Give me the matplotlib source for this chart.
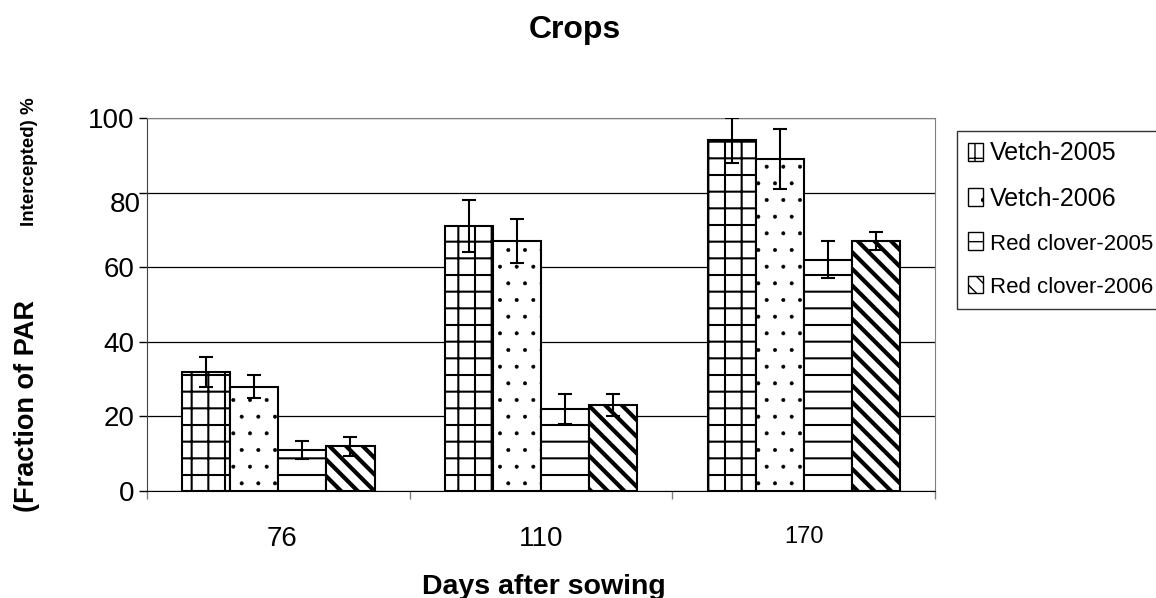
import matplotlib
matplotlib.use("Agg")
import matplotlib.pyplot as plt
import numpy as np
from matplotlib.transforms import ScaledTranslation

plt.rcParams['font.family'] = ['Liberation Sans', 'DejaVu Sans']

categories = ["76", "110", "170"]
series = ["Vetch-2005", "Vetch-2006", "Red clover-2005", "Red clover-2006"]
vetch_2005 = [32, 71, 94]
vetch_2006 = [28, 67, 89]
clover_2005 = [11, 22, 62]
clover_2006 = [12, 23, 67]
err_vetch_2005 = [4, 7, 6]
err_vetch_2006 = [3, 6, 8]
err_clover_2005 = [2.5, 4, 5]
err_clover_2006 = [2.5, 3, 2.5]
y_ticks = [0, 20, 40, 60, 80, 100]

values = [vetch_2005, vetch_2006, clover_2005, clover_2006]
errors = [err_vetch_2005, err_vetch_2006, err_clover_2005, err_clover_2006]
hatches = ['+', '.', '-', '\\\\']
hatch_lw = [1.5, 0.4, 1.5, 3.0]

fig = plt.figure(figsize=(11.56, 5.98), dpi=100)
ax = fig.add_axes([0.1272, 0.179, 0.6817, 0.6237])

x = np.arange(len(categories))
w = 0.183
handles = []
for i, (vals, errs, h, name, hl) in enumerate(zip(values, errors, hatches, series, hatch_lw)):
    pos = x + (i - 1.5) * w
    with plt.rc_context({'hatch.linewidth': hl}):
        b = ax.bar(pos, vals, w, color='white', edgecolor='black', linewidth=1.5,
                   hatch=h, label=name, zorder=3)
    for p in b.patches:
        if hasattr(p, 'set_hatch_linewidth'):
            p.set_hatch_linewidth(hl)
    ax.errorbar(pos, vals, yerr=errs, fmt='none', ecolor='black',
                elinewidth=1.5, capsize=5, capthick=1.5, zorder=4)
    handles.append(b)

ax.set_xlim(-0.5, 2.5)
ax.set_ylim(0, 100)
ax.set_yticks(y_ticks)
ax.set_yticklabels([str(t) for t in y_ticks], fontsize=20)
ax.yaxis.grid(True, color='black', linewidth=0.9, zorder=0)
ax.set_axisbelow(True)
ax.tick_params(axis='y', direction='out', length=6, width=1, pad=3)

ax.set_xticks(x)
ax.set_xticklabels(categories, fontsize=20)
ax.tick_params(axis='x', which='major', length=0, pad=25)
ax.set_xticks([-0.5, 0.5, 1.5, 2.5], minor=True)
ax.tick_params(axis='x', which='minor', direction='out', length=6, width=1, color='#808080')
for lbl in ax.get_xticklabels():
    if lbl.get_text() == "170":
        lbl.set_fontsize(17)
    if lbl.get_text() == "76":
        lbl.set_transform(lbl.get_transform() + ScaledTranslation(0.04, 0, fig.dpi_scale_trans))
for lbl in ax.get_yticklabels():
    if lbl.get_text() == "80":
        lbl.set_transform(lbl.get_transform() + ScaledTranslation(0.06, -0.09, fig.dpi_scale_trans))

for s in ['top', 'right']:
    ax.spines[s].set_color('#808080')
ax.spines['left'].set_color('#404040')
ax.spines['bottom'].set_color('black')

fig.text(575 / 1156, 1 - 30 / 598, "Crops", ha='center', va='center', fontsize=23, fontweight='bold')
fig.text(544 / 1156, 1 - 594 / 598, "Days after sowing", ha='center', va='baseline',
         fontsize=20.5, fontweight='bold')
fig.text(27 / 1156, 1 - 406 / 598, "(Fraction of PAR", rotation=90, ha='center', va='center',
         fontsize=19.5, fontweight='bold')
fig.text(29.5 / 1156, 1 - 162 / 598, "Intercepted) %", rotation=90, ha='center', va='center',
         fontsize=13.5, fontweight='bold')

leg = fig.legend(handles=handles, labels=series, loc='upper left',
                 bbox_to_anchor=(957 / 1156, 1 - 131 / 598), frameon=True,
                 fancybox=False, edgecolor='black', handlelength=0.6, handleheight=0.7,
                 handletextpad=0.3, labelspacing=0.85, borderpad=0.42, fontsize=18,
                 borderaxespad=0)
leg.get_frame().set_linewidth(1)
for t in leg.get_texts():
    if t.get_text().startswith("Red"):
        t.set_fontsize(16)
for p in leg.get_patches():
    p.set_linewidth(1)

fig.savefig("out.png", dpi=100)
